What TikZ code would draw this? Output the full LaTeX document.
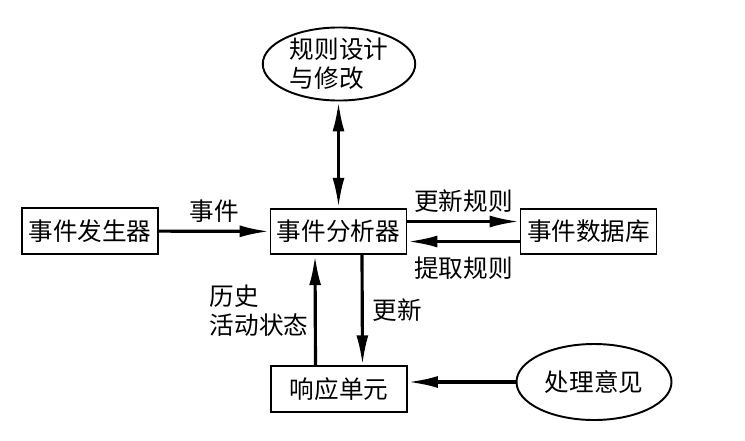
\documentclass[tikz,border=0pt]{standalone}
\usepackage{fontspec}
\setmainfont{Noto Sans CJK SC}
\usetikzlibrary{arrows.meta,positioning,shapes.geometric}
\tikzset{
  kuang/.style={draw,line width=1.1pt,minimum width=27.2mm,minimum height=9.1mm,inner sep=2pt},
  tuoyuan/.style={draw,ellipse,line width=1.1pt,inner sep=0pt,align=left},
  jiantou/.style={-{Latex[length=6mm,width=2.4mm]},line width=1.8pt},
  shuang/.style={{Latex[length=6mm,width=2.4mm]}-{Latex[length=6mm,width=2.4mm]},line width=1.8pt},
  biaoqian/.style={inner sep=2pt,align=left},
}
\begin{document}
\begin{tikzpicture}[font=\fontsize{14}{16.5}\selectfont]
  \useasboundingbox (0,0) rectangle (14.9,-8.8);
  \node[kuang] (fasheng) at (1.80,-4.62) {事件发生器};
  \node[kuang] (fenxi) at (6.77,-4.63) {事件分析器};
  \node[kuang] (shujuku) at (11.77,-4.63) {事件数据库};
  \node[kuang] (xiangying) at (6.78,-7.78) {响应单元};
  \node[tuoyuan,minimum width=30.5mm,minimum height=13.6mm] (guize) at (6.78,-1.28) {规则设计\\与修改};
  \node[tuoyuan,minimum width=31mm,minimum height=15.2mm] (yijian) at (11.88,-7.64) {处理意见};

  \draw[shuang] (fenxi.north |- guize.south) -- (fenxi.north);
  \draw[jiantou] (fasheng) -- node[biaoqian,above=2pt] (shijian) {事件} (fenxi);
  \draw[jiantou] ([yshift=2mm]fenxi.east) -- node[biaoqian,above=2pt] (gengxingz) {更新规则} ([yshift=2mm]shujuku.west);
  \draw[jiantou] ([yshift=-2mm]shujuku.west) -- node[biaoqian,below=6pt] (tiqu) {提取规则} ([yshift=-2mm]fenxi.east);
  \draw[jiantou] ([xshift=4.7mm]fenxi.south) -- node[biaoqian,right=3pt] (gengxin) {更新} ([xshift=4.7mm]xiangying.north);
  \draw[jiantou] ([xshift=-4.7mm]xiangying.north) -- node[biaoqian,left=1pt] (lishi) {历史\\活动状态} ([xshift=-4.7mm]fenxi.south);
  \draw[jiantou] (yijian.west) -- (xiangying.east |- yijian.west);
\end{tikzpicture}
\end{document}
